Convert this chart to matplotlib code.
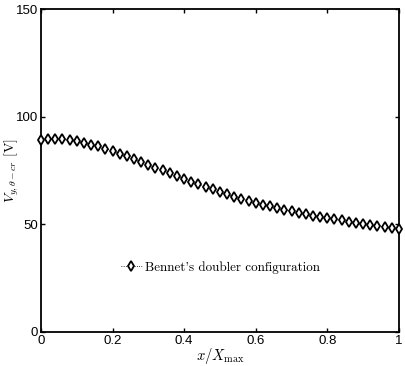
"""Recreate the V_y,theta-cr vs x/Xmax chart."""

import matplotlib

matplotlib.use("Agg")
import matplotlib.pyplot as plt
import numpy as np

plt.rcParams["mathtext.fontset"] = "cm"
plt.rcParams["font.family"] = ["Liberation Sans", "DejaVu Sans"]

x_norm = np.linspace(0.0, 1.0, 51)
v_cr = [
    89.0, 89.6, 89.7, 89.5, 89.1, 88.6, 87.9, 87.1, 86.2, 85.2,
    84.1, 82.9, 81.6, 80.3, 79.0, 77.7, 76.4, 75.1, 73.8, 72.5,
    71.2, 69.9, 68.6, 67.4, 66.2, 65.0, 63.9, 62.9, 61.9, 60.9,
    60.0, 59.1, 58.3, 57.5, 56.8, 56.1, 55.4, 54.7, 54.1, 53.5,
    52.9, 52.3, 51.8, 51.3, 50.8, 50.3, 49.8, 49.3, 48.8, 48.4,
    48.0,
]
series_label = "Bennet's doubler configuration"
x_ticks = [0, 0.2, 0.4, 0.6, 0.8, 1]
x_tick_labels = ["0", "0.2", "0.4", "0.6", "0.8", "1"]
y_ticks = [0, 50, 100, 150]

fig = plt.figure(figsize=(4.05, 3.66), dpi=100)
ax = fig.add_axes([0.101, 0.093, 0.884, 0.882])

ax.plot(
    x_norm, v_cr, linestyle=":", color="black", linewidth=0.6,
    marker="d", markersize=5.5, markerfacecolor="white",
    markeredgecolor="black", markeredgewidth=1.3, label=series_label,
    clip_on=False, zorder=3,
)

ax.set_xlim(0, 1)
ax.set_ylim(0, 150)
ax.set_xticks(x_ticks)
ax.set_xticklabels(x_tick_labels)
ax.set_yticks(y_ticks)
ax.tick_params(direction="in", length=3, width=1, top=True, right=True,
               labelsize=9.5, pad=2)
for s in ax.spines.values():
    s.set_linewidth(1.3)

ax.set_xlabel(r"$x/X_{\max}$", fontsize=10.5)
ax.xaxis.set_label_coords(0.5, -0.045)
ax.set_ylabel(r"$V_{y,\theta-cr}\ [\mathrm{V}]$", fontsize=10)
ax.yaxis.set_label_coords(-0.055, 0.5)

leg = ax.legend(
    loc="center left", bbox_to_anchor=(0.19, 0.20), frameon=False,
    handlelength=1.6, handletextpad=0.3,
    prop={"family": "cmr10", "size": 9.4},
)

fig.savefig("out.png", dpi=100)
